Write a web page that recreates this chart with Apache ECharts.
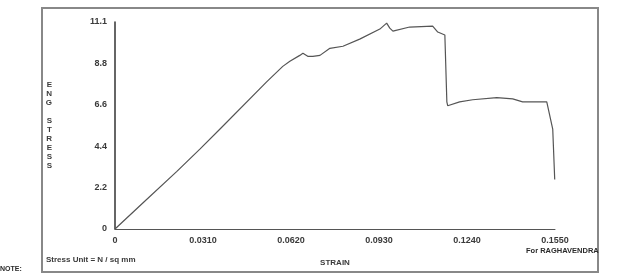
<!DOCTYPE html>
<html>
<head>
<meta charset="utf-8">
<script src="https://cdn.jsdelivr.net/npm/echarts@6/dist/echarts.min.js"></script>
<style>
  html, body { margin: 0; padding: 0; background: #fff; }
  #chart { width: 618px; height: 275px; }
</style>
</head>
<body>
<div id="chart"></div>
<script>
// strain / eng stress
var strain = [0, 0.0099, 0.0218, 0.0299, 0.0370, 0.0535, 0.0591, 0.0616, 0.0651, 0.0662,
  0.0679, 0.0697, 0.0722, 0.0757, 0.0803, 0.0862, 0.0933, 0.0957,
  0.0968, 0.0979, 0.1038, 0.1119, 0.1137, 0.1162, 0.1169, 0.1172, 0.1214, 0.1260,
  0.1345, 0.1401, 0.1436, 0.1521, 0.1542, 0.1549];
var stress = [0, 1.41, 3.09, 4.28, 5.36, 7.90, 8.72, 8.99, 9.31, 9.42,
  9.26, 9.26, 9.31, 9.69, 9.80, 10.18, 10.72, 11.04,
  10.77, 10.61, 10.83, 10.88, 10.56, 10.40, 6.82, 6.61, 6.82, 6.93,
  7.04, 6.98, 6.82, 6.82, 5.36, 2.65];
var xTicks = ['0', '0.0310', '0.0620', '0.0930', '0.1240', '0.1550'];
var yTicks = ['0', '2.2', '4.4', '6.6', '8.8', '11.1'];

var pts = [];
for (var i = 0; i < strain.length; i++) {
  pts.push([strain[i], stress[i]]);
}

var myChart = echarts.init(document.getElementById('chart'));
var lbl = { color: '#3a3a3a', fontSize: 9, fontFamily: 'Liberation Sans', fontWeight: 'bold' };

var option = {
  animation: false,
  backgroundColor: '#fff',
  grid: { left: 115, right: 63, top: 22, bottom: 46 },
  xAxis: {
    type: 'value',
    min: 0, max: 0.155, interval: 0.031,
    name: 'STRAIN',
    nameLocation: 'middle',
    nameGap: 30,
    nameTextStyle: { color: '#3a3a3a', fontSize: 8, fontFamily: 'Liberation Sans', fontWeight: 'bold' },
    axisLine: { lineStyle: { color: '#555', width: 1 } },
    axisTick: { show: false },
    splitLine: { show: false },
    axisLabel: Object.assign({ margin: 7, formatter: function (v) {
      return xTicks[Math.round(v / 0.031)];
    } }, lbl)
  },
  yAxis: {
    type: 'value',
    min: 0, max: 11.1, interval: 2.22,
    name: 'E\nN\nG\n\nS\nT\nR\nE\nS\nS',
    nameLocation: 'middle',
    nameRotate: 0,
    nameGap: 63,
    nameTextStyle: { color: '#3a3a3a', fontSize: 8, lineHeight: 9, fontFamily: 'Liberation Sans', fontWeight: 'bold' },
    axisLine: { show: true, lineStyle: { color: '#333', width: 1.5 } },
    axisTick: { show: false },
    splitLine: { show: false },
    axisLabel: Object.assign({ margin: 8, formatter: function (v) {
      return yTicks[Math.round(v / 2.22)];
    } }, lbl)
  },
  series: [{
    type: 'line',
    data: pts,
    showSymbol: false,
    lineStyle: { color: '#555', width: 1.2 }
  }],
  graphic: [
    { type: 'rect', shape: { x: 42, y: 8, width: 556, height: 264 },
      style: { fill: 'none', stroke: '#888', lineWidth: 2 } },
    { type: 'text', left: 46, top: 256,
      style: { text: 'Stress Unit = N / sq mm', fill: '#3a3a3a', fontSize: 8, fontFamily: 'Liberation Sans', fontWeight: 'bold' } },
    { type: 'text', left: 526, top: 247,
      style: { text: 'For RAGHAVENDRA', fill: '#2a2a2a', fontSize: 7.5, fontFamily: 'Liberation Sans', fontWeight: 'bold' } },
    { type: 'text', left: 0, top: 266,
      style: { text: 'NOTE:', fill: '#2a2a2a', fontSize: 7, fontFamily: 'Liberation Sans', fontWeight: 'bold' } }
  ]
};

myChart.setOption(option);
</script>
</body>
</html>
